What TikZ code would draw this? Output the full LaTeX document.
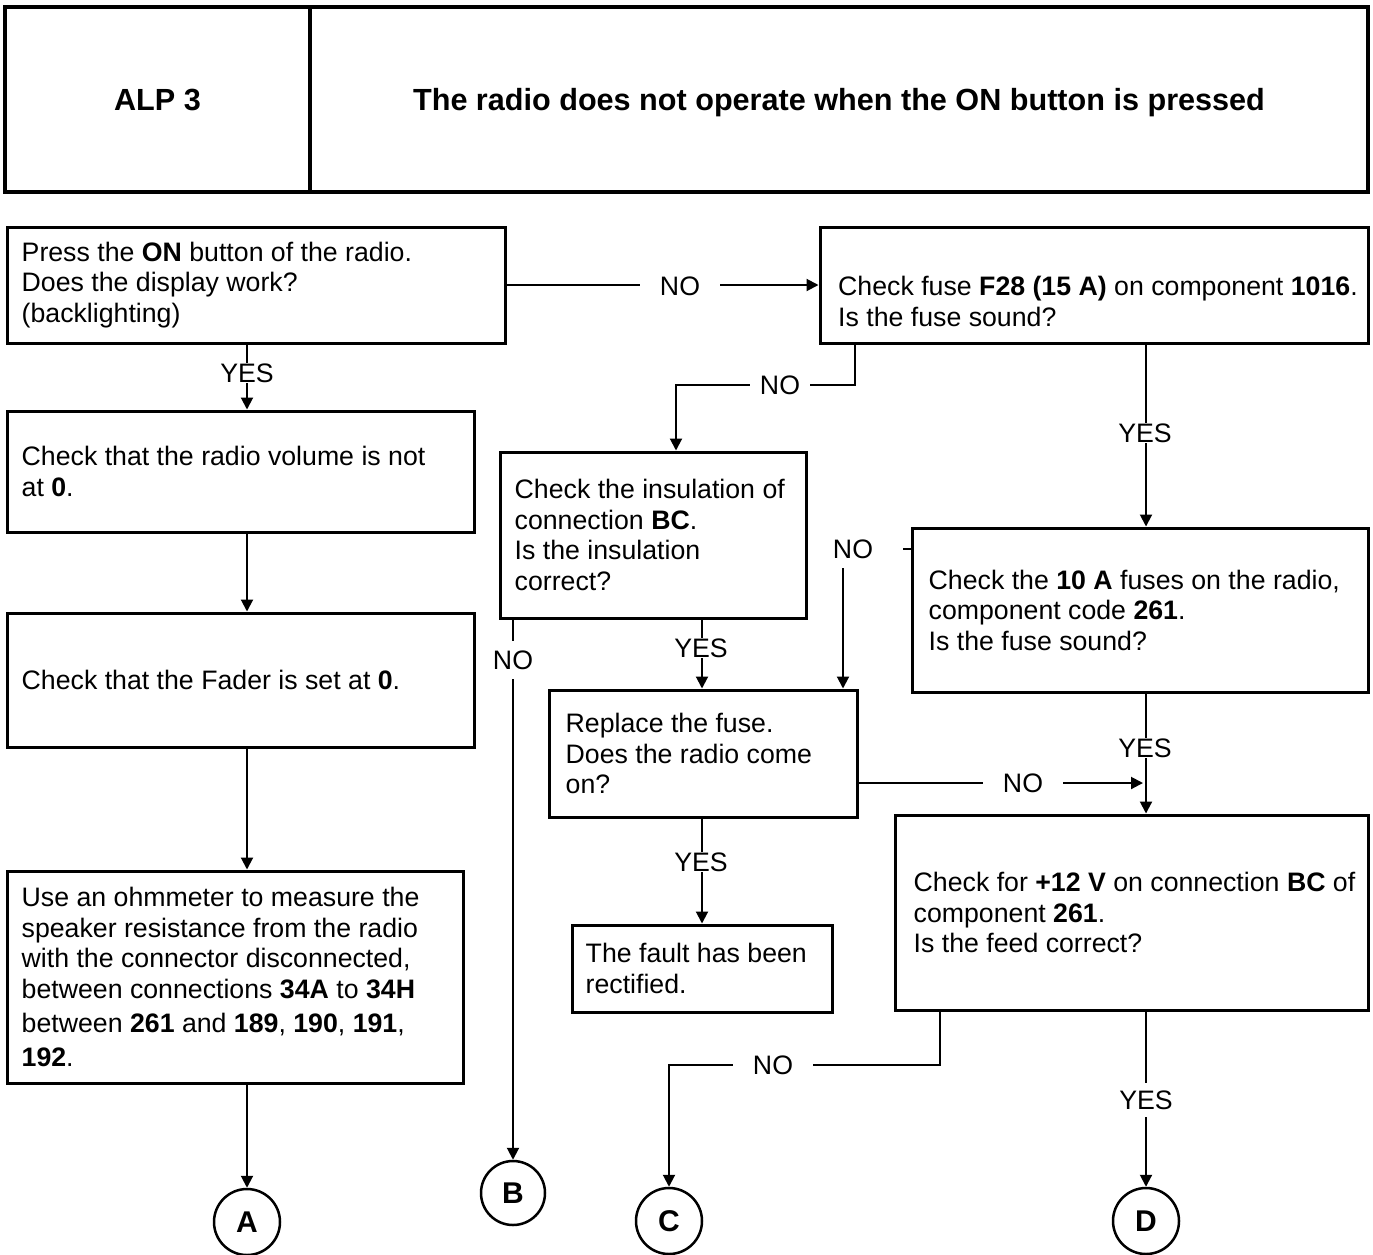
\documentclass[tikz,border=0pt]{standalone}
\usepackage{fontspec}
\setmainfont{Liberation Sans}
\usetikzlibrary{arrows.meta,calc}
\begin{document}
\begin{tikzpicture}[x=1pt,y=-1pt,
  box/.style={draw, line width=3pt, inner sep=0pt, rectangle},
  hbox/.style={draw, line width=3.5pt, inner sep=0pt, rectangle, text depth=0pt, font=\fontsize{30.6}{34}\selectfont\bfseries},
  txt/.style={inner sep=0pt, align=left, font=\fontsize{26.7}{30.5}\selectfont},
  lab/.style={fill=white, inner xsep=20pt, inner ysep=1pt, font=\fontsize{26.7}{30.5}\selectfont},
  vlab/.style={lab, inner xsep=2pt},
  con/.style={line width=2pt},
  arr/.style={con, -{Triangle[length=12pt,width=12pt]}},
  term/.style={draw, circle, line width=2.5pt, minimum size=66pt, inner sep=0pt, font=\fontsize{30}{32}\selectfont\bfseries}]
\clip (0,0) rectangle (1373,1254);
\fill[white] (0,0) rectangle (1373,1254);

% header
\node[hbox, minimum width=305pt, minimum height=185pt] (h1) at (157.5,99.5) {ALP 3};
\node[hbox, minimum width=1058pt, minimum height=185pt] (h2) at (839,99.5) {The radio does not operate when the ON button is pressed};

% boxes
\node[box, minimum width=498pt, minimum height=116pt] (b1) at (256,285) {};
\node[box, minimum width=467pt, minimum height=121pt] (b3) at (240.5,471.5) {};
\node[box, minimum width=467pt, minimum height=134pt] (b4) at (240.5,680) {};
\node[box, minimum width=456pt, minimum height=212pt] (b5) at (235,977) {};
\node[box, minimum width=548pt, minimum height=116pt] (b2) at (1094,285) {};
\node[box, minimum width=306pt, minimum height=166pt] (bi) at (653,535) {};
\node[box, minimum width=456pt, minimum height=164pt] (b10) at (1140,610) {};
\node[box, minimum width=308pt, minimum height=127pt] (rep) at (703,753.5) {};
\node[box, minimum width=260pt, minimum height=87pt] (fault) at (702,968.5) {};
\node[box, minimum width=473pt, minimum height=195pt] (b12) at (1131.5,912.5) {};

% terminals
\node[term] (A) at (247,1222) {A};
\node[term, minimum size=64pt] (B) at (513,1193) {B};
\node[term] (C) at (669,1221) {C};
\node[term] (D) at (1146,1221) {D};

% texts
\node[txt, anchor=west] (t1) at ([xshift=16pt]b1.west) {Press the \textbf{ON} button of the radio.\\Does the display work?\\(backlighting)};
\node[txt, anchor=west] (t3) at ([xshift=16pt]b3.west) {Check that the radio volume is not\\at \textbf{0}.};
\node[txt, anchor=west] (t4) at ([xshift=16pt]b4.west) {Check that the Fader is set at \textbf{0}.};
\node[txt, anchor=west] (t5) at ([xshift=16pt]b5.west) {Use an ohmmeter to measure the\\speaker resistance from the radio\\with the connector disconnected,\\between connections \textbf{34A} to \textbf{34H}\\[4pt]between \textbf{261} and \textbf{189}, \textbf{190}, \textbf{191},\\[3pt]\textbf{192}.};
\node[txt, anchor=north west] (t2) at (838,276) {Check fuse \textbf{F28 (15 A)} on component \textbf{1016}.\\Is the fuse sound?};
\node[txt, anchor=west] (ti) at ([xshift=16pt]bi.west) {Check the insulation of\\connection \textbf{BC}.\\Is the insulation\\correct?};
\node[txt, anchor=west] (t10) at ([xshift=18pt]b10.west) {Check the \textbf{10 A} fuses on the radio,\\component code \textbf{261}.\\Is the fuse sound?};
\node[txt, anchor=west] (tr) at ([xshift=18pt]rep.west) {Replace the fuse.\\Does the radio come\\on?};
\node[txt, anchor=west] (tf) at ([xshift=15pt]fault.west) {The fault has been\\rectified.};
\node[txt, anchor=west] (t12) at ([xshift=20pt]b12.west) {Check for \textbf{+12 V} on connection \textbf{BC} of\\component \textbf{261}.\\Is the feed correct?};

% helper coordinates
\coordinate (k1) at (855,385);
\coordinate (k2) at (676,385);
\coordinate (k3) at (843,568);
\coordinate (k3d) at (903,549);
\coordinate (k4) at (1143,783);
\coordinate (k5) at (940,1065);

% connectors
\draw[arr] (b1.south -| A) -- (b3.north -| A);
\draw[arr] (b3.south -| A) -- (b4.north -| A);
\draw[arr] (b4.south -| A) -- (b5.north -| A);
\draw[arr] (b5.south -| A) -- (A.north);
\draw[arr] (b1.east) -- (b2.west);
\draw[arr] (b2.south -| k1) -- (k1) -- (k2) -- (k2 |- bi.north);
\draw[arr] (b2.south -| D) -- (b10.north -| D);
\draw[arr] (bi.south -| B) -- (B.north);
\draw[arr] (bi.south -| fault) -- (rep.north -| fault);
\draw[arr] (rep.south -| fault) -- (fault.north);
\draw[con] (b10.west |- k3d) -- (k3d);
\draw[arr] (k3) -- (k3 |- rep.north);
\draw[arr] (b10.south -| D) -- (b12.north -| D);
\draw[arr] (rep.east |- k4) -- (k4);
\draw[arr] (b12.south -| k5) -- (k5) -- (k5 -| C) -- (C.north);
\draw[arr] (b12.south -| D) -- (D.north);

% labels
\node[vlab] (l1) at (247,373) {YES};
\node[lab] (l2) at (680,286) {NO};
\node[lab, inner xsep=10pt] (l3) at (780,385) {NO};
\node[vlab] (l4) at (1145,433) {YES};
\node[vlab, inner ysep=10pt] (l5) at (513,660) {NO};
\node[vlab] (l6) at (701,648) {YES};
\node[txt] (l7) at (853,549) {NO};
\node[vlab] (l8) at (1145,748) {YES};
\node[lab] (l9) at (1023,783) {NO};
\node[vlab] (l10) at (701,862) {YES};
\node[lab] (l11) at (773,1065) {NO};
\node[vlab, inner ysep=8pt] (l12) at (1146,1100) {YES};
\end{tikzpicture}
\end{document}
